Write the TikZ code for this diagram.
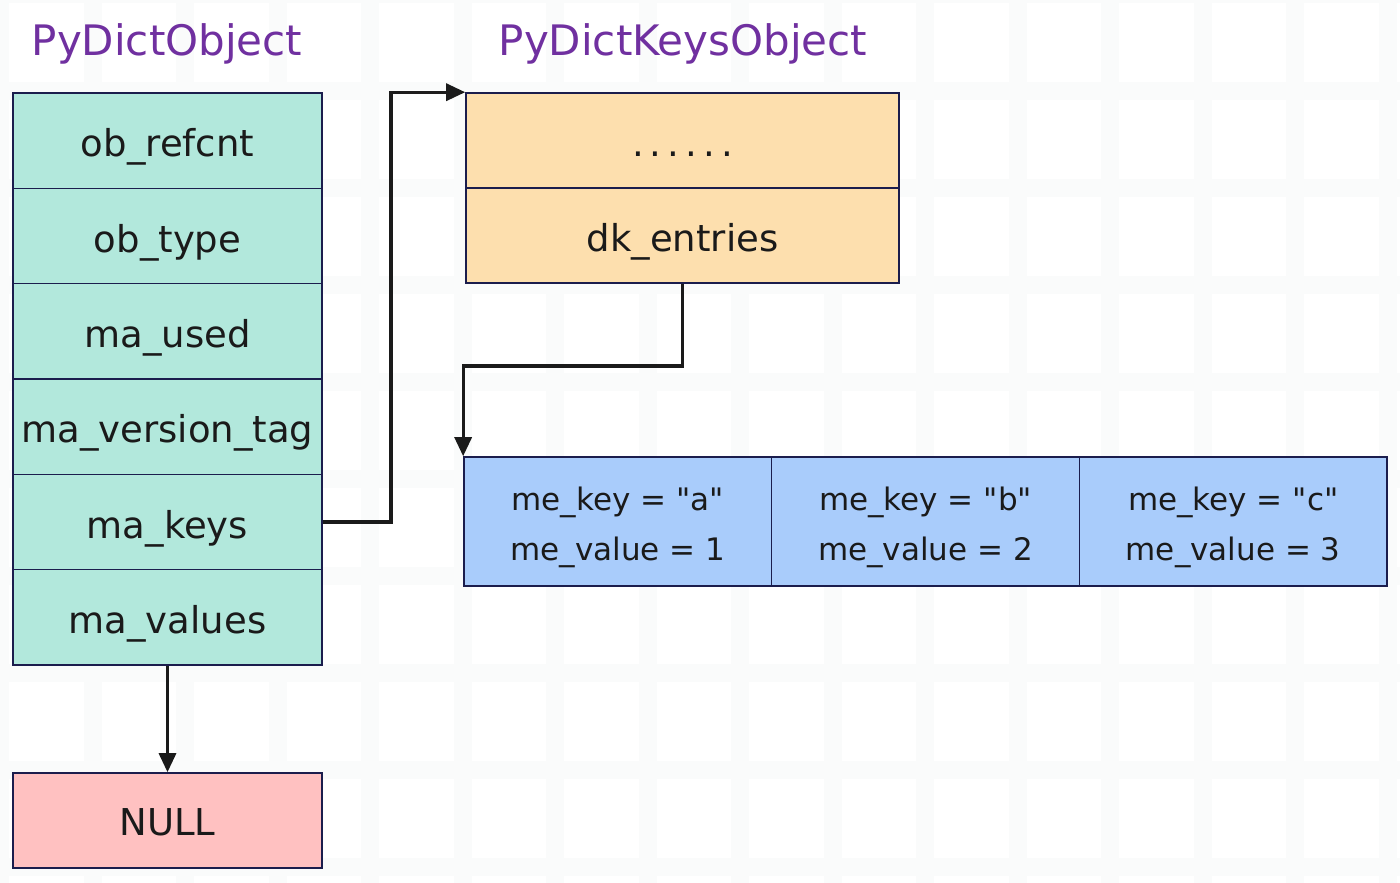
\documentclass[tikz,border=0pt]{standalone}
\usepackage{fontspec}
\setmainfont{DejaVu Sans}[Ligatures=TeXOff]
\usetikzlibrary{arrows.meta}
\definecolor{tealc}{HTML}{B2E8DC}
\definecolor{orgc}{HTML}{FDDFAE}
\definecolor{bluc}{HTML}{A9CCFB}
\definecolor{pnkc}{HTML}{FFC1C1}
\definecolor{bordc}{HTML}{1B1D4D}
\definecolor{ttlc}{HTML}{7030A0}
\definecolor{gridc}{HTML}{FAFBFB}
\definecolor{inkc}{HTML}{1A1A1A}
\begin{document}
\begin{tikzpicture}[x=1pt,y=-1pt,
  gridl/.style={draw=gridc, line width=18pt},
  cell/.style={draw=bordc, line width=1.6pt, inner sep=0pt, text=inkc,
    font=\fontsize{37}{44}\selectfont, text height=34pt, text depth=2pt},
  leftcell/.style={cell, fill=tealc, minimum width=309pt, minimum height=95.3pt},
  keycell/.style={cell, fill=orgc, minimum width=433pt, minimum height=95pt},
  entcell/.style={cell, fill=bluc, minimum width=307.7pt, minimum height=129pt,
    align=center, font=\fontsize{31}{50}\selectfont, text height=80pt, text depth=3pt},
  nullcell/.style={cell, fill=pnkc, minimum width=309pt, minimum height=95pt,
    text height=32pt, text depth=2pt},
  ttl/.style={text=ttlc, font=\fontsize{42}{50}\selectfont, inner sep=0pt},
  arr/.style={draw=inkc, line width=3.2pt, -{Triangle[length=19pt,width=17pt]}}
]
\useasboundingbox (0,0) rectangle (1400,883);
\fill[white] (0,0) rectangle (1400,883);
% faint background grid
\foreach \gx in {0,92.5,...,1400} \draw[gridl] (\gx,0) -- (\gx,883);
\foreach \gy in {-6,91,...,883} \draw[gridl] (0,\gy) -- (1400,\gy);

% titles
\node[ttl] (t1) at (167,44) {PyDictObject};
\node[ttl] (t2) at (683,44) {PyDictKeysObject};

% PyDictObject fields
\node[leftcell] (r1) at (167.5,140.7) {ob\_refcnt};
\node[leftcell] (r2) at (167.5,236.0) {ob\_type};
\node[leftcell] (r3) at (167.5,331.3) {ma\_used};
\node[leftcell] (r4) at (167.5,426.7) {ma\_version\_tag};
\node[leftcell] (r5) at (167.5,522.0) {ma\_keys};
\node[leftcell] (r6) at (167.5,617.3) {ma\_values};

% NULL
\node[nullcell] (nul) at (167.5,820.5) {NULL};

% PyDictKeysObject
\node[keycell] (k1) at (682.5,140.5) {.\hspace{6pt}.\hspace{6pt}.\hspace{6pt}.\hspace{6pt}.\hspace{6pt}.};
\node[keycell] (k2) at (682.5,235.5) {dk\_entries};

% entries
\node[entcell] (e1) at (617.8,521.5) {me\_key = "a"\\me\_value = 1};
\node[entcell] (e2) at (925.5,521.5) {me\_key = "b"\\me\_value = 2};
\node[entcell] (e3) at (1233.2,521.5) {me\_key = "c"\\me\_value = 3};

% connectors
\coordinate (kx) at (391,0);
\coordinate (ka) at (kx |- k1.north west);
\coordinate (ly) at (0,366);
\coordinate (ea) at (e1.north west |- ly);
\draw[arr] (r5.east) -| (ka) -- (k1.north west);
\draw[arr] (k2.south) |- (ea) -- (e1.north west);
\draw[arr] (r6.south) -- (nul.north);
\end{tikzpicture}
\end{document}
